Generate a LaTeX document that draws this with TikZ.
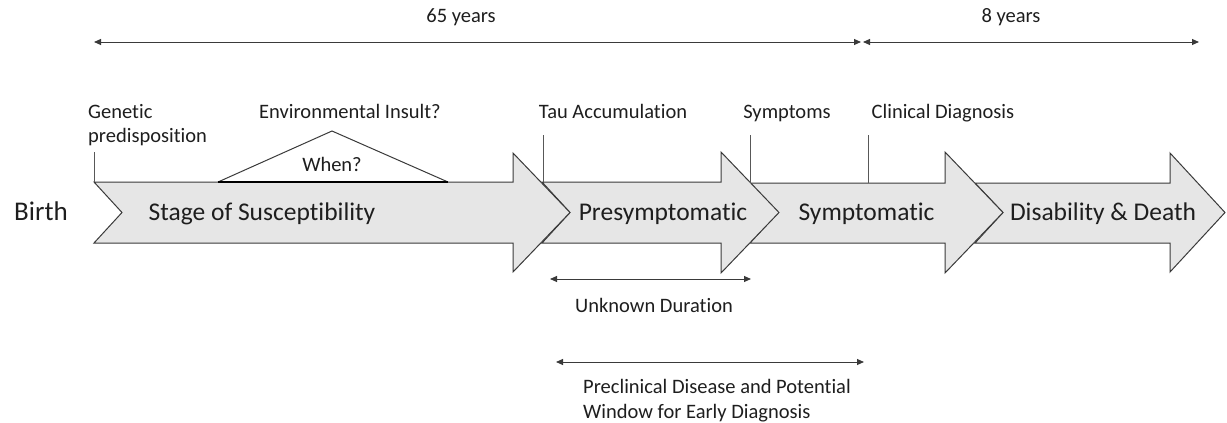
\documentclass[tikz,border=0pt]{standalone}
\usepackage{fontspec}
\setmainfont{Carlito}[Ligatures=NoCommon]
\usetikzlibrary{arrows.meta}
\definecolor{txt}{HTML}{1E1E1E}
\definecolor{stroke}{HTML}{3A3A3A}
\definecolor{fillg}{HTML}{E6E6E6}
\begin{document}
\begin{tikzpicture}[x=1pt,y=-1pt,
  small/.style={font=\fontsize{20.5}{25}\selectfont, text=txt, inner sep=0pt},
  big/.style={font=\fontsize{25.5}{30}\selectfont, text=txt, inner sep=0pt},
  birthlbl/.style={font=\fontsize{27}{32}\selectfont, text=txt, inner sep=0pt},
  stagearrow/.style={draw=stroke, fill=fillg, line width=1pt, line join=miter},
  tick/.style={draw=stroke!85, line width=0.8pt},
  span/.style={draw=stroke, line width=1pt, {Triangle[length=7pt,width=6pt]}-{Triangle[length=7pt,width=6pt]}}
]
\useasboundingbox (0,0) rectangle (1227,423);

% stage arrows (later ones drawn first so earlier ones overlap them)
\draw[stagearrow] (975,183) -- (1170,183) -- (1170,153) -- (1225,212.5) -- (1170,272) -- (1170,243) -- (975,243) -- (1003,212.5) -- cycle;
\draw[stagearrow] (750,183) -- (945,183) -- (945,152) -- (1003,212.5) -- (945,273) -- (945,243) -- (750,243) -- (778,212.5) -- cycle;
\draw[stagearrow] (542,182) -- (721,182) -- (721,152) -- (779,212.5) -- (721,273) -- (721,243) -- (542,243) -- (570,212.5) -- cycle;
\draw[stagearrow] (94,182) -- (513,182) -- (513,153) -- (570,212.5) -- (513,272) -- (513,243) -- (94,243) -- (122,212.5) -- cycle;

% environmental insult triangle
\draw[draw=stroke, fill=white, line width=1pt, line join=miter] (218,182) -- (332,131) -- (448,182);
\draw[draw=black, line width=2pt] (218,182) -- (448,182);
\node[small, anchor=base] (when) at (332,171) {When?};

% tick lines
\coordinate (gTop) at (94,152);  \coordinate (gBot) at (94,182);
\coordinate (tTop) at (543,135); \coordinate (tBot) at (543,182);
\coordinate (sTop) at (750,135); \coordinate (sBot) at (750,183);
\coordinate (cTop) at (868,135); \coordinate (cBot) at (868,183);
\draw[tick] (gTop) -- (gBot);
\draw[tick] (tTop) -- (tBot);
\draw[tick] (sTop) -- (sBot);
\draw[tick] (cTop) -- (cBot);

% top labels
\node[small, anchor=base west] (genetic) at (88,118) {Genetic};
\node[small, anchor=base west] (predisp) at (88,142) {predisposition};
\node[small, anchor=base] (env) at (350,118) {Environmental Insult?};
\node[small, anchor=base] (tau) at (613,118) {Tau Accumulation};
\node[small, anchor=base] (symp) at (787,118) {Symptoms};
\node[small, anchor=base] (clin) at (943,118) {Clinical Diagnosis};

% stage labels
\node[birthlbl, anchor=base] (birth) at (41,220) {Birth};
\node[big, anchor=base] (s1) at (262,220) {Stage of Susceptibility};
\node[big, anchor=base] (s2) at (663,220) {Presymptomatic};
\node[big, anchor=base] (s3) at (866.5,220) {Symptomatic};
\node[big, anchor=base] (s4) at (1103,220) {Disability \& Death};

% year spans
\coordinate (y65a) at (94,42);  \coordinate (y65b) at (861,42);
\coordinate (y8a) at (863,42);  \coordinate (y8b) at (1199,42);
\draw[span] (y65a) -- (y65b);
\draw[span] (y8a) -- (y8b);
\node[small, anchor=base] (l65) at (461,23) {65 years};
\node[small, anchor=base] (l8) at (1011,23) {8 years};

% unknown duration
\coordinate (uA) at (550,279); \coordinate (uB) at (751,279);
\draw[span] (uA) -- (uB);
\node[small, anchor=base] (unk) at (654,312) {Unknown Duration};

% preclinical window
\coordinate (pA) at (556,362); \coordinate (pB) at (864,362);
\draw[span] (pA) -- (pB);
\node[small, anchor=base west] (pre1) at (583,393) {Preclinical Disease and Potential};
\node[small, anchor=base west] (pre2) at (583,418) {Window for Early Diagnosis};
\end{tikzpicture}
\end{document}
